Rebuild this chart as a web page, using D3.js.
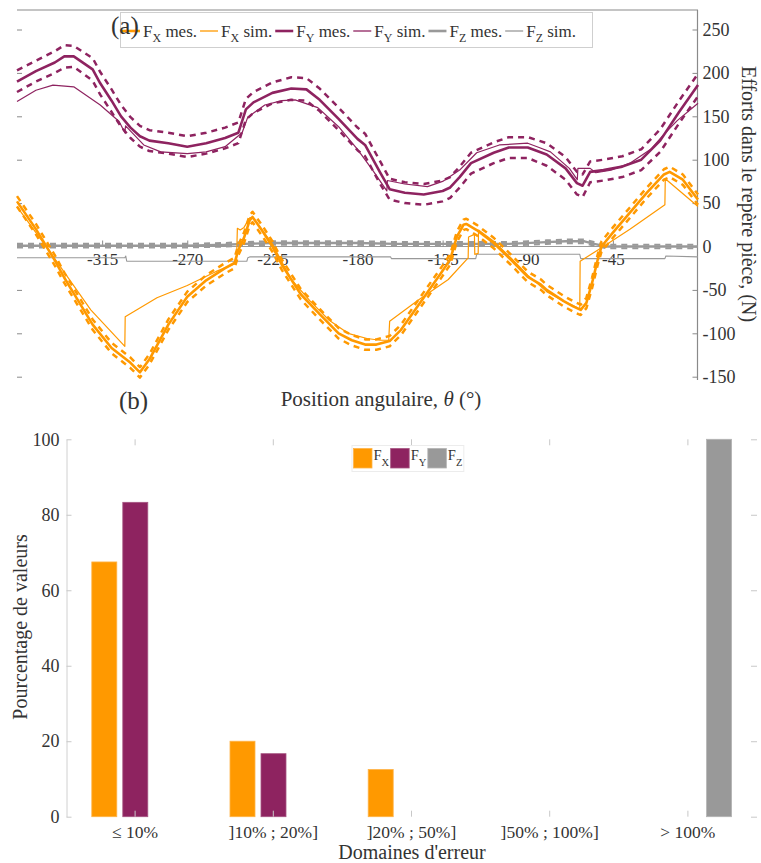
<!DOCTYPE html>
<html><head><meta charset="utf-8">
<script src="https://cdn.jsdelivr.net/npm/d3@7"></script>
<style>
body{margin:0;background:#fff}
svg{display:block}
text{font-family:"Liberation Serif","Times New Roman",serif;fill:#333}
</style>
</head><body>
<svg id="c" width="761" height="863"></svg>
<script>
// ---------- (a) data ----------
const xTicks = [-315,-270,-225,-180,-135,-90,-45];
const yTicks = [-150,-100,-50,0,50,100,150,200,250];

const fxMesTheta = [-360,-350,-340,-335,-330,-320,-310,-300,-295,-290,-280,-270,-260,-250,-245,-243,-240,-237,-235.5,-230,-225,-220,-210,-200,-190,-183,-176,-170,-163,-157,-147,-136,-131,-127.5,-124,-122.5,-117,-108,-99,-90,-83,-80,-71,-66,-62,-59,-56,-53,-51,-45,-36,-27,-18,-15,-8,0];
const fxMes = [52,20,-16,-36,-54,-90,-117,-134,-145,-130,-90,-58,-39,-25,-19,-4,10,30,34,17,0,-21,-55,-78,-100,-108,-113,-113,-109,-96,-65,-31,-15,11,25,26,19,4,-15,-35,-44,-50,-63,-69,-73,-65,-42,-15,0,16,39,62,83,86,77,54];
const fxMesUp = [58,26,-10,-30,-48,-84,-111,-128,-139,-124,-84,-52,-33,-19,-13,2,16,36,40,23,6,-15,-49,-72,-94,-102,-107,-107,-103,-90,-59,-25,-9,17,31,32,25,10,-9,-29,-38,-44,-57,-63,-67,-59,-36,-9,6,22,45,68,89,92,83,60];
const fxMesLo = [46,14,-22,-42,-60,-96,-123,-140,-151,-136,-96,-64,-45,-31,-25,-10,4,24,28,11,-6,-27,-61,-84,-106,-114,-119,-119,-115,-102,-71,-37,-21,5,19,20,13,-2,-21,-41,-50,-56,-69,-75,-79,-71,-48,-21,-6,10,33,56,77,80,71,48];

const fxSimTheta = [-360,-342,-321,-303,-302.8,-286,-270,-255,-244,-243.5,-242,-240,-237,-235.5,-225,-215,-205,-195,-185,-175,-168,-163.5,-163,-148,-132,-121.5,-121.3,-118.2,-118,-116.2,-116,-108,-99,-90,-80,-71,-66,-62.5,-62.3,-50,-36,-17.5,-17.3,0];
const fxSim = [46,-8,-73,-115,-81,-59,-45,-29,-19,21,19,22,33,34,3,-38,-63,-85,-100,-106,-108,-108,-86,-62,-38,-13,11,14,-9,-8,19,6,-13,-33,-52,-63,-68,-72,-17,0,20,48,78,46];

const fyMesTheta = [-360,-350,-340,-335,-330,-320,-316,-310,-305,-300,-295,-290,-280,-270,-260,-250,-243,-239,-235,-225,-215,-207,-200,-190,-180,-176,-168,-163,-155,-145,-135,-131,-126,-120,-108,-100,-90,-80,-70,-64,-61,-57,-50,-40,-30,-20,-10,0];
const fyMes = [190,202,212,219,219,204,188,168,150,137,127,122,119,115,119,125,131,158,166,177,182,181,169,147,124,117,85,66,62,60,64,68,80,96,108,114,114,106,90,73,70,86,88,92,100,122,155,186];
const fyMesUp = [203,214,225,232,231,217,201,181,163,149,139,134,131,127,131,137,143,170,178,189,195,194,182,160,137,130,98,78,74,72,76,80,92,108,120,126,126,119,103,86,83,98,100,104,112,135,168,199];
const fyMesLo = [178,190,200,206,207,191,175,155,138,125,115,110,107,103,107,113,119,146,154,165,169,168,156,134,111,104,72,54,50,48,52,56,68,84,96,102,102,93,77,60,57,74,76,80,88,109,142,173];

const fySimTheta = [-360,-350,-341,-330,-316,-306,-303,-302.6,-293,-284,-270,-260,-250,-241,-238,-229,-220,-213,-201,-190,-180,-172,-164.5,-164.2,-155,-143,-135,-126,-117,-105,-90,-84,-78,-68,-63.8,-63.5,-57,-54,-46,-36,-25,-18.5,-11,0];
const fySim = [167,180,186,184,163,144,131,139,117,109,107,109,115,131,149,163,168,169,160,138,112,88,64,76,72,69,75,88,108,117,119,114,109,90,77,90,90,85,88,96,112,128,145,165];

const fzMesTheta = [-360,-330,-300,-270,-250,-240,-225,-200,-180,-160,-140,-120,-100,-80,-70,-60,-55,-48,-40,-20,0];
const fzMes = [1,1,1,1,2,3,4,4,4,3,3,3,3,5,6,6,3,0,0,0,0];
const fzMesUp = [3,3,3,3,4,5,6,6,6,5,5,5,5,7,8,8,5,2,2,2,2];
const fzMesLo = [-1,-1,-1,-1,0,1,2,2,2,1,1,1,1,3,4,4,1,-2,-2,-2,-2];

const fzSimTheta = [-360,-303,-302.5,-302,-238.5,-238,-237,-162.5,-162,-117.5,-117,-62.5,-62,-17.5,-17,0];
const fzSim = [-13,-13,-11,-17,-17,-13,-12,-12,-14,-14,-9,-9,-14,-14,-11,-12];

// ---------- (b) data ----------
const categories = ["≤ 10%", "]10% ; 20%]", "]20% ; 50%]", "]50% ; 100%]", "> 100%"];
const seriesNames = ["X","Y","Z"];
const barFX = [67.5,20,12.5,0,0];
const barFY = [83.3,16.7,0,0,0];
const barFZ = [0,0,0,0,100];
const barTicks = [0,20,40,60,80,100];

const ORANGE = "#FF9900", PURPLE = "#8E2360", GREY = "#999999";
const FONT = "Liberation Serif, serif";

const svg = d3.select("#c");

// =============== chart (a) =================
const x = d3.scaleLinear([-360,0],[17,698]);
const y = d3.scaleLinear([-150,250],[376.7,29.5]);
const ga = svg.append("g");

ga.append("line").attr("x1",17).attr("x2",698).attr("y1",10).attr("y2",10).attr("stroke","#8a8a8a").attr("stroke-width",1.2);
ga.append("line").attr("x1",697.5).attr("x2",697.5).attr("y1",10).attr("y2",380).attr("stroke","#8a8a8a").attr("stroke-width",1.2);
ga.append("line").attr("x1",17).attr("x2",698).attr("y1",y(0)).attr("y2",y(0)).attr("stroke","#9a9a9a").attr("stroke-width",1);

const ax = ga.append("g").attr("transform",`translate(697.5,0)`)
  .call(d3.axisRight(y).tickValues(yTicks).tickSizeInner(-5).tickSizeOuter(0).tickPadding(5).tickFormat(d=>String(d)));
ax.select(".domain").remove();
ax.selectAll("line").attr("stroke","#8a8a8a");
ax.selectAll("text").attr("font-size",18).attr("fill","#333").attr("font-family",FONT);

const axl = ga.append("g").attr("transform",`translate(17,0)`)
  .call(d3.axisLeft(y).tickValues(yTicks).tickSizeInner(-5).tickSizeOuter(0).tickFormat(""));
axl.select(".domain").remove();
axl.selectAll("line").attr("stroke","#8a8a8a");

const axx = ga.append("g").attr("transform",`translate(0,${y(0)})`)
  .call(d3.axisBottom(x).tickValues(xTicks).tickSizeInner(-6).tickSizeOuter(0).tickPadding(6).tickFormat(d=>String(d)));
axx.select(".domain").remove();
axx.selectAll("line").attr("stroke","#8a8a8a");
axx.selectAll("text").attr("font-size",17).attr("fill","#333").attr("font-family",FONT);

function drawLine(th, vals, color, width, dash){
  const pts = th.map((t,i)=>[t, vals[i]]);
  const p = ga.append("path").datum(pts)
    .attr("d", d3.line().x(d=>x(d[0])).y(d=>y(d[1])))
    .attr("fill","none").attr("stroke",color).attr("stroke-width",width)
    .attr("stroke-linejoin","round");
  if(dash) p.attr("stroke-dasharray",dash);
}

// F_Z
drawLine(fzMesTheta, fzMesUp, GREY, 2.2, "6,5");
drawLine(fzMesTheta, fzMesLo, GREY, 2.2, "6,5");
drawLine(fzMesTheta, fzMes, GREY, 2.4);
drawLine(fzSimTheta, fzSim, GREY, 1.1);
// F_Y
drawLine(fyMesTheta, fyMesUp, PURPLE, 2.5, "6,5");
drawLine(fyMesTheta, fyMesLo, PURPLE, 2.5, "6,5");
drawLine(fyMesTheta, fyMes, PURPLE, 2.6);
drawLine(fySimTheta, fySim, PURPLE, 1.2);
// F_X
drawLine(fxMesTheta, fxMesUp, ORANGE, 2.5, "6,5");
drawLine(fxMesTheta, fxMesLo, ORANGE, 2.5, "6,5");
drawLine(fxMesTheta, fxMes, ORANGE, 2.6);
drawLine(fxSimTheta, fxSim, ORANGE, 1.2);

// legend (a)
const legA = [
  {s:"X", t:" mes.", c:ORANGE, w:2.6},
  {s:"X", t:" sim.", c:ORANGE, w:1.3},
  {s:"Y", t:" mes.", c:PURPLE, w:2.6},
  {s:"Y", t:" sim.", c:PURPLE, w:1.3},
  {s:"Z", t:" mes.", c:GREY, w:2.6},
  {s:"Z", t:" sim.", c:GREY, w:1.3}
];
const lg = ga.append("g");
const lgBox = lg.append("rect").attr("x",120.5).attr("y",12.5).attr("height",35).attr("fill","#fff").attr("stroke","#cfcfcf");
let cx = 122;
legA.forEach(e=>{
  lg.append("line").attr("x1",cx).attr("x2",cx+18).attr("y1",31).attr("y2",31).attr("stroke",e.c).attr("stroke-width",e.w);
  const t = lg.append("text").attr("x",cx+21).attr("y",37).attr("font-size",17);
  t.append("tspan").text("F");
  t.append("tspan").attr("font-size",12).attr("dy",5).text(e.s);
  t.append("tspan").attr("dy",-5).text(e.t);
  cx += 21 + t.node().getComputedTextLength() + 3;
});
lgBox.attr("width", Math.max(cx-120, 472));
svg.append("text").attr("x",111).attr("y",34).attr("font-size",25).attr("fill","#222").text("(a)");

// axis titles (a)
const tx = svg.append("text").attr("x",381).attr("y",406).attr("text-anchor","middle").attr("font-size",21);
tx.append("tspan").text("Position angulaire, ");
tx.append("tspan").attr("font-style","italic").text("θ");
tx.append("tspan").text(" (°)");
svg.append("text").attr("transform","translate(742,194) rotate(90)").attr("text-anchor","middle").attr("font-size",20)
  .text("Efforts dans le repère pièce, (N)");
svg.append("text").attr("x",119).attr("y",409).attr("font-size",25).attr("fill","#222").text("(b)");

// =============== chart (b) =================
const gb = svg.append("g");
const xb = d3.scaleBand(categories,[66,757]).padding(0);
const xs = d3.scaleBand(seriesNames,[-43.3,43.7]).paddingInner(0.1935).paddingOuter(0);
const yb = d3.scaleLinear([0,100],[816.7,439.3]);

const byl = gb.append("g").attr("transform","translate(66.5,0)")
  .call(d3.axisLeft(yb).tickValues(barTicks).tickSizeInner(-5).tickSizeOuter(0).tickPadding(7));
byl.select(".domain").attr("stroke","#d0d0d0");
byl.selectAll("line").attr("stroke","#c8c8c8");
byl.selectAll("text").attr("font-size",18).attr("fill","#333").attr("font-family",FONT);

const byr = gb.append("g").attr("transform","translate(757,0)")
  .call(d3.axisRight(yb).tickValues(barTicks).tickSizeInner(-6).tickSizeOuter(0).tickFormat(""));
byr.select(".domain").remove();
byr.selectAll("line").attr("stroke","#c8c8c8");

const bxt = gb.append("g").attr("transform",`translate(0,${yb(100)})`)
  .call(d3.axisTop(xb).tickSizeInner(-6).tickSizeOuter(0).tickFormat(""));
bxt.select(".domain").remove();
bxt.selectAll("line").attr("stroke","#c8c8c8");

const barData = [
  {k:"X", v:barFX, c:ORANGE, e:"#ffb347"},
  {k:"Y", v:barFY, c:PURPLE, e:"#a65582"},
  {k:"Z", v:barFZ, c:GREY, e:"#b3b3b3"}
];
barData.forEach(s=>{
  gb.append("g").selectAll("rect").data(categories.map((c,i)=>({c, v:s.v[i]})).filter(d=>d.v>0))
    .join("rect")
    .attr("x",d=>xb(d.c)+xb.bandwidth()/2+xs(s.k))
    .attr("width",xs.bandwidth())
    .attr("y",d=>yb(d.v))
    .attr("height",d=>yb(0)-yb(d.v))
    .attr("fill",s.c).attr("stroke",s.e).attr("stroke-width",0.8);
});

const bxb = gb.append("g").attr("transform",`translate(0,${yb(0)})`)
  .call(d3.axisBottom(xb).tickSizeInner(-6).tickSizeOuter(0).tickPadding(9));
bxb.select(".domain").remove();
bxb.selectAll("line").attr("stroke","#c8c8c8");
bxb.selectAll("text").attr("font-size",17.5).attr("fill","#333").attr("font-family",FONT);

// legend (b)
const lb = gb.append("g");
const lbBox = lb.append("rect").attr("x",352).attr("y",445.5).attr("height",26).attr("fill","#fff").attr("stroke","#ececec");
let bx = 353.5;
barData.forEach(s=>{
  lb.append("rect").attr("x",bx).attr("y",448.5).attr("width",18.5).attr("height",19.5).attr("fill",s.c).attr("stroke",s.e).attr("stroke-width",0.8);
  const t = lb.append("text").attr("x",bx+20).attr("y",460).attr("font-size",14.5);
  t.append("tspan").text("F");
  t.append("tspan").attr("font-size",10.5).attr("dy",6).text(s.k);
  bx += 20 + t.node().getComputedTextLength() + 1.5;
});
lbBox.attr("width", bx-352);

// axis titles (b)
svg.append("text").attr("x",412).attr("y",859).attr("text-anchor","middle").attr("font-size",20).text("Domaines d'erreur");
svg.append("text").attr("transform","translate(27,627) rotate(-90)").attr("text-anchor","middle").attr("font-size",20).text("Pourcentage de valeurs");
</script>
</body></html>
